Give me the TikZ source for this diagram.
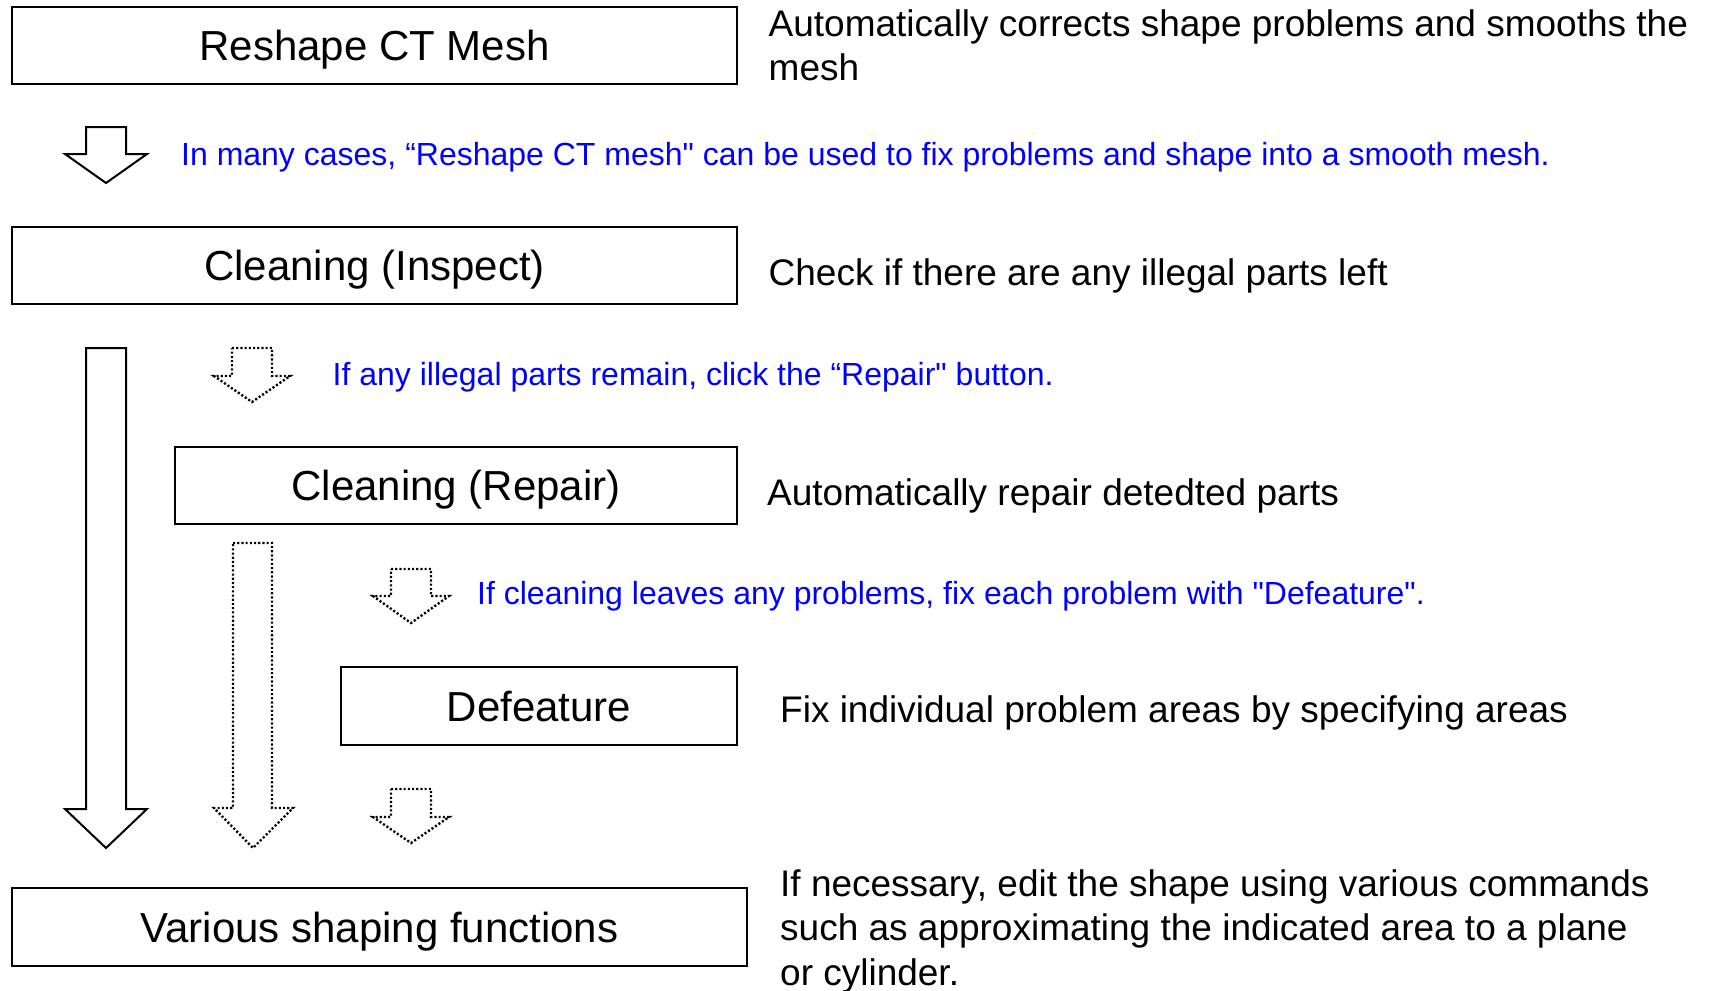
\documentclass[tikz,border=0pt]{standalone}
\usepackage{fontspec}
\setmainfont{Liberation Sans}
\newfontfamily\plainqfont{Liberation Sans}
\definecolor{noteblue}{RGB}{0,0,255}
\newcommand{\sq}{{\plainqfont\symbol{34}}}
\tikzset{
  stepbox/.style={draw=black, line width=2.5pt, fill=white, inner sep=0pt,
    text height=30.6pt, text depth=0pt,
    font=\fontsize{42}{50}\selectfont},
  desc/.style={anchor=base west, inner sep=0pt, align=left,
    font=\fontsize{37}{44.5}\selectfont},
  note/.style={anchor=base west, inner sep=0pt, text=noteblue,
    font=\fontsize{32}{38}\selectfont},
  solidarrow/.style={draw=black, line width=2pt, line join=miter},
  dotarrow/.style={draw=black, line width=2.4pt, dash pattern=on 2.1pt off 2.1pt, line join=miter}
}
\begin{document}
\begin{tikzpicture}[x=1pt,y=-1pt]
\useasboundingbox (0,0) rectangle (1709,991);

% step boxes
\node[stepbox, minimum width=725pt, minimum height=77pt] (b1) at (374.5,45.5) {Reshape CT Mesh};
\node[stepbox, minimum width=725pt, minimum height=77pt] (b2) at (374.5,265.5) {Cleaning (Inspect)};
\node[stepbox, minimum width=562pt, minimum height=77pt] (b3) at (456,485.5) {Cleaning (Repair)};
\node[stepbox, minimum width=396pt, minimum height=78pt] (b4) at (539,706) {Defeature};
\node[stepbox, minimum width=735pt, minimum height=78pt] (b5) at (379.5,927) {Various shaping functions};

% descriptions
\node[desc] (d1) at (768.5,36) {\begin{tabular}[t]{@{}l@{}}Automatically corrects shape problems and smooths the\\mesh\end{tabular}};
\node[desc] (d2) at (768.5,285.5) {Check if there are any illegal parts left};
\node[desc] (d3) at (767,505.5) {Automatically repair detedted parts};
\node[desc] (d4) at (780,722.5) {Fix individual problem areas by specifying areas};
\node[desc] (d5) at (780,896) {\begin{tabular}[t]{@{}l@{}}If necessary, edit the shape using various commands\\such as approximating the indicated area to a plane\\or cylinder.\end{tabular}};

% blue notes
\node[note] (n1) at (181,165) {In many cases, “Reshape CT mesh\sq{} can be used to fix problems and shape into a smooth mesh.};
\node[note] (n2) at (332.5,385) {If any illegal parts remain, click the “Repair\sq{} button.};
\node[note] (n3) at (477,604) {If cleaning leaves any problems, fix each problem with \sq{}Defeature\sq.};

% block arrows
\draw[solidarrow] (86,127) -- (126,127) -- (126,154) -- (147,154) -- (106,183) -- (65,154) -- (86,154) -- cycle;
\draw[solidarrow] (86,348) -- (126,348) -- (126,809) -- (147,809) -- (106,848) -- (65,809) -- (86,809) -- cycle;
\draw[dotarrow] (232,348) -- (272,348) -- (272,376) -- (290,376) -- (252,402) -- (214,376) -- (232,376) -- cycle;
\draw[dotarrow] (233,543) -- (272,543) -- (272,808) -- (293,808) -- (253,848) -- (214,808) -- (233,808) -- cycle;
\draw[dotarrow] (391,569) -- (431,569) -- (431,596) -- (449,596) -- (411,623) -- (373,596) -- (391,596) -- cycle;
\draw[dotarrow] (391,789) -- (431,789) -- (431,817) -- (449,817) -- (411,843) -- (373,817) -- (391,817) -- cycle;
\end{tikzpicture}
\end{document}
